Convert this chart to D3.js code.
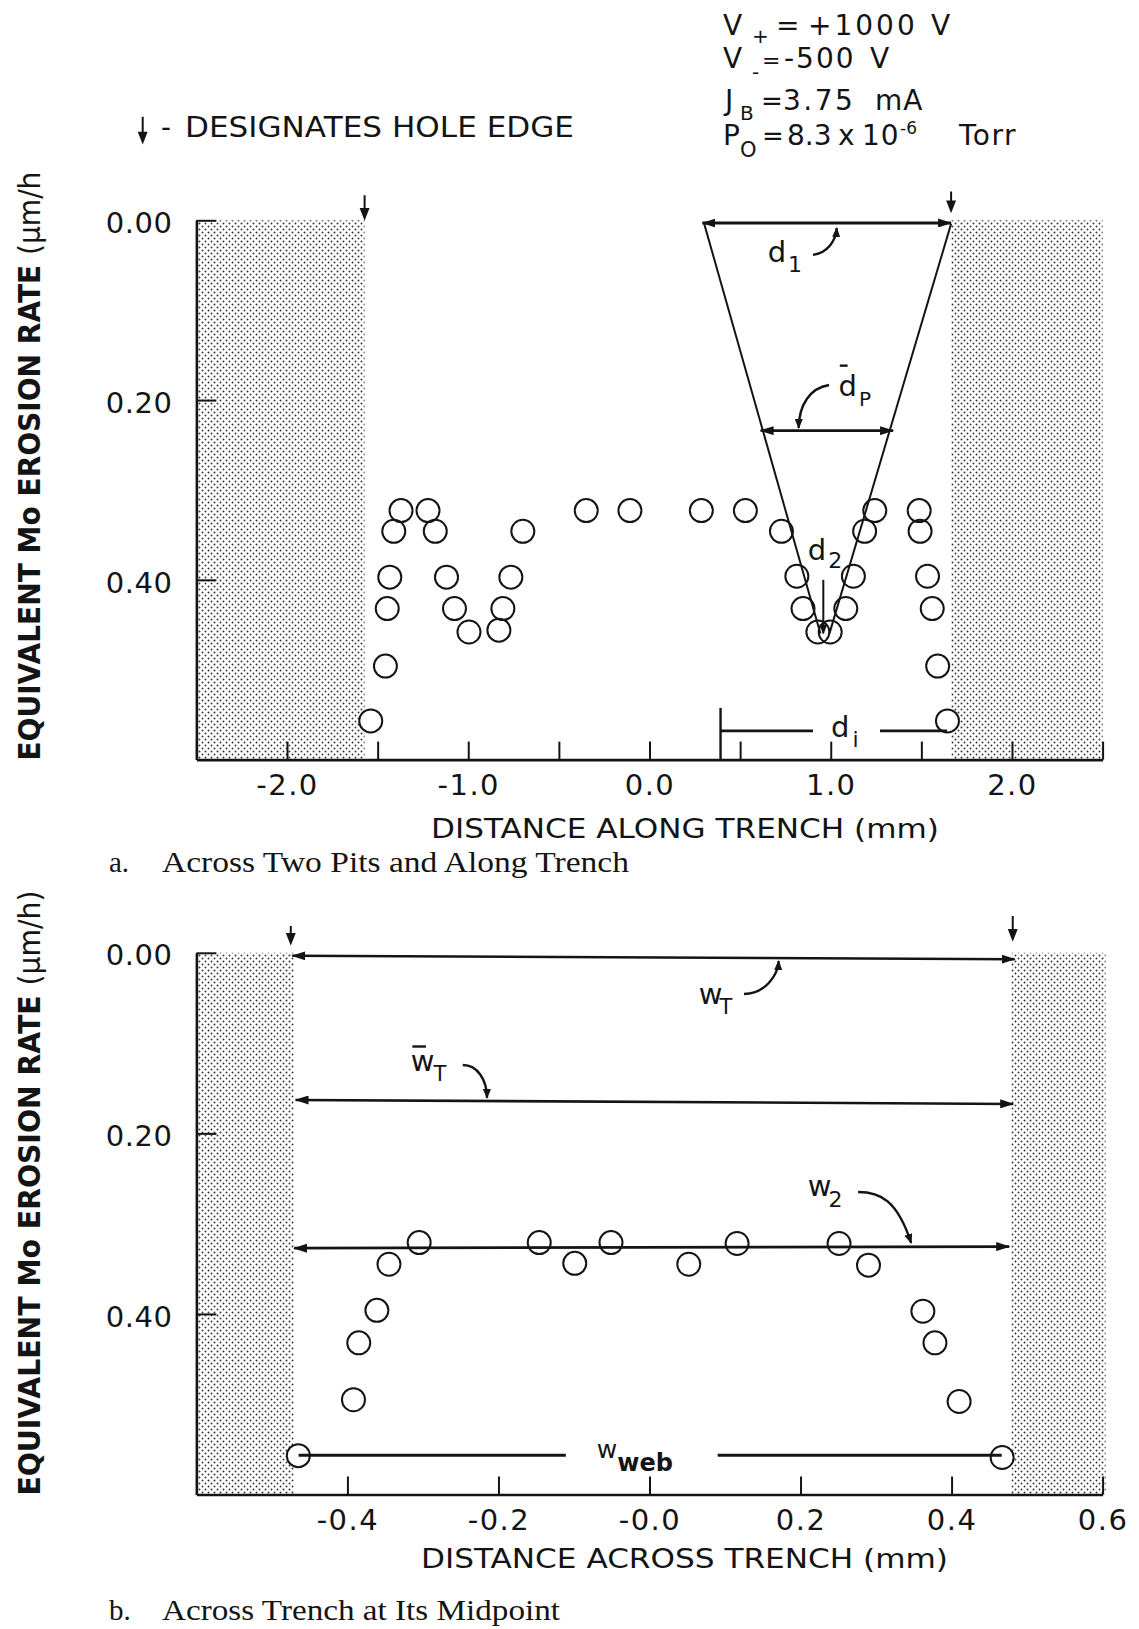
<!DOCTYPE html>
<html>
<head>
<meta charset="utf-8">
<script src="https://d3js.org/d3.v7.min.js"></script>
<style>
	body { margin: 0; background: #fff; }
	svg text { font-family: "DejaVu Sans", sans-serif; fill: #141414; }
	svg text.serif { font-family: "Liberation Serif", "Times New Roman", serif; }
</style>
</head>
<body>
<div id="vis"></div>
<script>
const width = 1139;
const height = 1629;
const ink = "#141414";

// a. along the trench (mm) / equivalent Mo erosion rate (um/h)
const along_x = [-1.538, -1.457, -1.447, -1.433, -1.411, -1.371, -1.222, -1.182, -1.120, -1.076, -0.996, -0.831, -0.809, -0.765, -0.699,
	-0.349, -0.108, 0.286, 0.529, 0.728, 0.813, 0.847, 0.929, 0.997, 1.083, 1.125, 1.187, 1.243, 1.488, 1.493, 1.534, 1.560, 1.590, 1.644];
const along_rate = [0.557, 0.496, 0.432, 0.397, 0.346, 0.323, 0.323, 0.346, 0.397, 0.432, 0.458, 0.456, 0.432, 0.397, 0.346,
	0.323, 0.323, 0.323, 0.323, 0.346, 0.396, 0.432, 0.458, 0.458, 0.432, 0.396, 0.346, 0.323, 0.323, 0.346, 0.396, 0.432, 0.496, 0.557];

// b. across the trench at its midpoint
const across_x = [-0.465, -0.392, -0.385, -0.361, -0.345, -0.305, -0.146, -0.099, -0.051, 0.052, 0.116, 0.251, 0.290, 0.362, 0.378, 0.410, 0.467];
const across_rate = [0.557, 0.495, 0.432, 0.396, 0.345, 0.321, 0.321, 0.344, 0.321, 0.345, 0.322, 0.322, 0.346, 0.397, 0.432, 0.497, 0.559];

const along_ticks = [-2.5, -2.0, -1.5, -1.0, -0.5, 0.0, 0.5, 1.0, 1.5, 2.0, 2.5];
const along_tick_labels = ["", "-2.0", "", "-1.0", "", "0.0", "", "1.0", "", "2.0", ""];
const across_ticks = [-0.6, -0.4, -0.2, 0.0, 0.2, 0.4, 0.6];
const across_tick_labels = ["", "-0.4", "-0.2", "-0.0", "0.2", "0.4", "0.6"];
const rate_ticks = [0.0, 0.2, 0.4];
const rate_tick_labels = ["0.00", "0.20", "0.40"];

// hole regions (shaded) and hole edge markers
const along_holes = [[-2.5, -1.572], [1.664, 2.5]];
const across_holes = [[-0.6, -0.4707], [0.479, 0.604]];
const along_edges = [{x: -1.572, y0: -0.028, y1: -0.0026}, {x: 1.664, y0: -0.032, y1: -0.0108}];
const across_edges = [{x: -0.475, y0: -0.0297, y1: -0.0109}, {x: 0.481, y0: -0.0408, y1: -0.0153}];

const svg = d3.select("div#vis")
	.append("svg")
		.attr("width", width)
		.attr("height", height);

const defs = svg.append("defs");
const pat = defs.append("pattern")
	.attr("id", "dots")
	.attr("patternUnits", "userSpaceOnUse")
	.attr("width", 6)
	.attr("height", 6);
pat.append("circle").attr("cx", 1.5).attr("cy", 1.5).attr("r", 0.95).attr("fill", "#333");
pat.append("circle").attr("cx", 4.5).attr("cy", 4.5).attr("r", 0.95).attr("fill", "#333");

defs.append("marker")
	.attr("id", "head")
	.attr("viewBox", "0 0 14 9")
	.attr("refX", 13).attr("refY", 4.5)
	.attr("markerWidth", 14).attr("markerHeight", 9)
	.attr("markerUnits", "userSpaceOnUse")
	.attr("orient", "auto-start-reverse")
	.append("path").attr("d", "M0,0L14,4.5L0,9z").attr("fill", ink);

defs.append("marker")
	.attr("id", "tip")
	.attr("viewBox", "0 0 10 8")
	.attr("refX", 9).attr("refY", 4)
	.attr("markerWidth", 10).attr("markerHeight", 8)
	.attr("markerUnits", "userSpaceOnUse")
	.attr("orient", "auto")
	.append("path").attr("d", "M0,0L10,4L0,8z").attr("fill", ink);

setup_header();

setup_panel({
	x_domain: [-2.5, 2.5], top: 220.3, bottom: 759.6,
	xs: along_x, rates: along_rate,
	x_ticks: along_ticks, x_labels: along_tick_labels,
	holes: along_holes, edges: along_edges,
	y_title: ["EQUIVALENT Mo EROSION RATE ", "(\u03bcm/h"], y_title_len: 589,
	x_title: "DISTANCE ALONG TRENCH ", x_title_x: 431, x_title_len: 508, x_title_y: 838,
	caption: "Across Two Pits and Along Trench", caption_y: 872, caption_len: 467, tag: "a.",
	annotate: annotate_along
});

setup_panel({
	x_domain: [-0.6, 0.6], top: 952.8, bottom: 1494.5,
	xs: across_x, rates: across_rate,
	x_ticks: across_ticks, x_labels: across_tick_labels,
	holes: across_holes, edges: across_edges,
	y_title: ["EQUIVALENT Mo EROSION RATE ", "(\u03bcm/h)"], y_title_len: 605,
	x_title: "DISTANCE ACROSS TRENCH ", x_title_x: 421, x_title_len: 527, x_title_y: 1568,
	caption: "Across Trench at Its Midpoint", caption_y: 1620, caption_len: 398, tag: "b.",
	annotate: annotate_across
});


function setup_panel (cfg) {
	const x = d3.scaleLinear().domain(cfg.x_domain).range([196.4, 1102.6]);
	const y = d3.scaleLinear().domain([0, 0.6]).range([cfg.top, cfg.bottom]);
	const g = svg.append("g");

	g.selectAll("rect.hole")
		.data(cfg.holes)
		.enter()
		.append("rect")
			.attr("class", "hole")
			.attr("x", d => x(d[0]))
			.attr("y", y(0))
			.attr("width", d => x(d[1]) - x(d[0]))
			.attr("height", y(0.6) - y(0))
			.attr("fill", "url(#dots)");

	const xAxis = g.append("g")
		.attr("transform", `translate(0,${y(0.6)})`)
		.call(d3.axisBottom(x)
			.tickValues(cfg.x_ticks)
			.tickFormat((d, i) => cfg.x_labels[i])
			.tickSizeInner(-18).tickSizeOuter(0).tickPadding(15));

	const yAxis = g.append("g")
		.attr("transform", `translate(${x.range()[0]},0)`)
		.call(d3.axisLeft(y)
			.tickValues(rate_ticks)
			.tickFormat((d, i) => rate_tick_labels[i])
			.tickSizeInner(-20).tickSizeOuter(0).tickPadding(24));

	[xAxis, yAxis].forEach(a => {
		a.attr("font-size", 29).attr("font-family", null);
		a.select(".domain").attr("stroke", ink).attr("stroke-width", 2.6);
		a.selectAll(".tick line").attr("stroke", ink).attr("stroke-width", 2);
	});
	xAxis.selectAll("text").style("letter-spacing", "1.5px");
	yAxis.selectAll("text").attr("dy", "0.42em").style("letter-spacing", "0.5px");

	// hole edge markers
	g.selectAll("path.edge")
		.data(cfg.edges)
		.enter()
		.append("path")
			.attr("class", "edge")
			.attr("d", d => edge_arrow(x(d.x), y(d.y0), y(d.y1)))
			.attr("fill", ink)
			.attr("stroke", ink)
			.attr("stroke-width", 2);

	const pts = cfg.xs.map((v, i) => ({x: v, rate: cfg.rates[i]}));

	g.selectAll("circle.blank")
		.data(pts)
		.enter()
		.append("circle")
			.attr("class", "blank")
			.attr("cx", d => x(d.x))
			.attr("cy", d => y(d.rate))
			.attr("r", 11.5)
			.attr("fill", "#fff");

	g.selectAll("circle.pt")
		.data(pts)
		.enter()
		.append("circle")
			.attr("class", "pt")
			.attr("cx", d => x(d.x))
			.attr("cy", d => y(d.rate))
			.attr("r", 11.5)
			.attr("fill", "none")
			.attr("stroke", ink)
			.attr("stroke-width", 2);

	cfg.annotate(g, x, y);

	// titles
	const yt = g.append("text")
		.attr("transform", `translate(40,${y(0.6) + 1})rotate(-90)`)
		.attr("font-size", 30)
		.attr("font-weight", "bold")
		.attr("textLength", cfg.y_title_len)
		.attr("lengthAdjust", "spacingAndGlyphs");
	yt.append("tspan").text(cfg.y_title[0]);
	yt.append("tspan").attr("font-weight", "normal").text(cfg.y_title[1]);

	const xt = g.append("text")
		.attr("x", cfg.x_title_x)
		.attr("y", cfg.x_title_y)
		.attr("font-size", 27)
		.attr("textLength", cfg.x_title_len)
		.attr("lengthAdjust", "spacingAndGlyphs");
	xt.append("tspan").text(cfg.x_title);
	xt.append("tspan").text("(mm)");

	g.append("text")
		.attr("class", "serif")
		.attr("x", 109)
		.attr("y", cfg.caption_y)
		.attr("font-size", 29)
		.text(cfg.tag);

	g.append("text")
		.attr("class", "serif")
		.attr("x", 162)
		.attr("y", cfg.caption_y)
		.attr("font-size", 29)
		.attr("textLength", cfg.caption_len)
		.attr("lengthAdjust", "spacingAndGlyphs")
		.text(cfg.caption);
}

function edge_arrow (px, y0, y1) {
	return `M${px},${y0}V${y1 - 6}M${px - 3.5},${y1 - 9}L${px + 3.5},${y1 - 9}L${px},${y1}Z`;
}

function double_arrow (g, x, y, x1, y1, x2, y2, w) {
	g.append("line")
		.attr("x1", x(x1)).attr("y1", y(y1))
		.attr("x2", x(x2)).attr("y2", y(y2))
		.attr("stroke", ink)
		.attr("stroke-width", w || 2.6)
		.attr("marker-start", "url(#head)")
		.attr("marker-end", "url(#head)");
}

function curl (g, x, y, p) {
	g.append("path")
		.attr("d", `M${x(p[0])},${y(p[1])}C${x(p[2])},${y(p[3])} ${x(p[4])},${y(p[5])} ${x(p[6])},${y(p[7])}`)
		.attr("fill", "none")
		.attr("stroke", ink)
		.attr("stroke-width", 2.4)
		.attr("marker-end", "url(#tip)");
}

function sub_label (g, px, py, main, sub, o) {
	o = o || {};
	const t = g.append("text")
		.attr("x", px)
		.attr("y", py)
		.attr("font-size", o.size || 29);
	t.append("tspan").text(main);
	t.append("tspan")
		.attr("font-size", o.sub_size || 22)
		.attr("font-weight", o.sub_weight || null)
		.attr("dx", o.dx == null ? 2 : o.dx)
		.attr("dy", o.dy || 10)
		.text(sub);
	return t;
}

function plain_line (g, x, y, x1, y1, x2, y2, w) {
	g.append("line")
		.attr("x1", x(x1)).attr("y1", y(y1))
		.attr("x2", x(x2)).attr("y2", y(y2))
		.attr("stroke", ink)
		.attr("stroke-width", w || 2.4);
}

function annotate_along (g, x, y) {
	// pit profile
	plain_line(g, x, y, 0.302, 0.004, 0.943, 0.4596, 2);
	plain_line(g, x, y, 1.664, 0.004, 0.993, 0.4596, 2);

	double_arrow(g, x, y, 0.292, 0.003, 1.664, 0.003, 3);
	double_arrow(g, x, y, 0.613, 0.234, 1.344, 0.234, 2.6);

	// d2
	g.append("line")
		.attr("x1", x(0.959)).attr("y1", y(0.400))
		.attr("x2", x(0.959)).attr("y2", y(0.4596))
		.attr("stroke", ink).attr("stroke-width", 2)
		.attr("marker-end", "url(#tip)");

	// d_i
	plain_line(g, x, y, 0.392, 0.5425, 0.392, 0.6, 2.4);
	plain_line(g, x, y, 0.392, 0.568, 0.902, 0.568, 2.6);
	plain_line(g, x, y, 1.272, 0.568, 1.642, 0.568, 2.6);

	sub_label(g, x(0.652), y(0.0464), "d", "1", {dy: 10});
	curl(g, x, y, [0.902, 0.0384, 0.985, 0.036, 1.029, 0.022, 1.033, 0.0086]);

	sub_label(g, x(1.043), y(0.1955), "d", "P", {dy: 10, sub_size: 20});
	plain_line(g, x, y, 1.05, 0.1617, 1.093, 0.1617, 2.4);
	curl(g, x, y, [0.991, 0.1833, 0.885, 0.1866, 0.825, 0.2055, 0.823, 0.2311]);

	sub_label(g, x(0.873), y(0.378), "d", "2", {dy: 8});
	sub_label(g, x(1.002), y(0.5747), "d", "i", {dy: 10, dx: 3});
}

function annotate_across (g, x, y) {
	double_arrow(g, x, y, -0.473, 0.0033, 0.4836, 0.0071, 2.6);
	double_arrow(g, x, y, -0.4687, 0.163, 0.4816, 0.1674, 2.6);
	double_arrow(g, x, y, -0.4706, 0.3272, 0.4763, 0.3254, 2.8);

	plain_line(g, x, y, -0.4647, 0.5565, -0.1108, 0.5565, 2.8);
	plain_line(g, x, y, 0.0903, 0.5565, 0.4664, 0.5565, 2.8);

	sub_label(g, x(0.0652), y(0.0567), "w", "T", {dy: 10, dx: -3, sub_size: 21});
	curl(g, x, y, [0.1251, 0.0456, 0.153, 0.0456, 0.1702, 0.0246, 0.171, 0.0091]);

	sub_label(g, x(-0.3162), y(0.1309), "w", "T", {dy: 10, dx: -1, sub_size: 21});
	plain_line(g, x, y, -0.314, 0.1038, -0.296, 0.1038, 2.4);
	curl(g, x, y, [-0.2473, 0.1243, -0.2274, 0.1243, -0.2155, 0.1409, -0.2151, 0.1608]);

	sub_label(g, x(0.2095), y(0.269), "w", "2", {dy: 11, dx: -3, sub_size: 22});
	curl(g, x, y, [0.2762, 0.265, 0.3054, 0.265, 0.3279, 0.2738, 0.3465, 0.3214]);

	sub_label(g, x(-0.0697), y(0.5596), "w", "web", {dy: 13, dx: 0, size: 25, sub_size: 24, sub_weight: "bold"});
}

function setup_header () {
	// hole edge legend
	svg.append("path")
		.attr("d", edge_arrow(142.7, 116.7, 141.7))
		.attr("fill", ink).attr("stroke", ink).attr("stroke-width", 2);
	svg.append("text").attr("x", 161).attr("y", 136.7).attr("font-size", 27.5).text("-");
	svg.append("text")
		.attr("x", 185).attr("y", 136.7)
		.attr("font-size", 27.5)
		.attr("textLength", 389)
		.attr("lengthAdjust", "spacingAndGlyphs")
		.text("DESIGNATES HOLE EDGE");

	// operating conditions: [text, x, baseline, size, letter spacing]
	const conditions = [
		["V", 723, 35, 28, 0], ["+", 752, 43, 20, 0], ["=", 776, 35, 28, 0], ["+1000", 808, 35, 28, 3], ["V", 931, 35, 28, 0],
		["V", 723, 68, 28, 0], ["-", 752, 79, 20, 0], ["=", 762, 68, 22, 0], ["-500", 784, 68, 28, 2], ["V", 870, 68, 28, 0],
		["J", 725, 110, 28, 0], ["B", 740, 120, 20, 0], ["=", 761, 110, 26, 0], ["3.75", 783, 110, 28, 2.5], ["mA", 875, 110, 28, 1],
		["P", 723, 145, 28, 0], ["O", 740, 156.7, 21, 0], ["=", 762, 145, 26, 0], ["8.3", 787, 145, 28, 0], ["x", 838, 145, 28, 0],
		["10", 862, 145, 28, 1], ["-6", 900, 134, 17, 0], ["Torr", 959, 145, 28, 1.5]
	];
	svg.selectAll("text.cond")
		.data(conditions)
		.enter()
		.append("text")
			.attr("class", "cond")
			.attr("x", d => d[1])
			.attr("y", d => d[2])
			.attr("font-size", d => d[3])
			.style("letter-spacing", d => d[4] ? d[4] + "px" : null)
			.text(d => d[0]);
}
</script>
</body>
</html>
